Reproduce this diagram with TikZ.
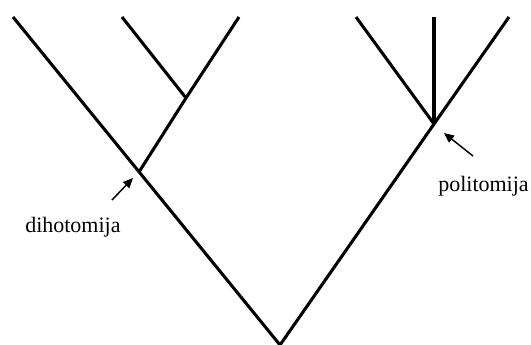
\documentclass[tikz,border=0pt]{standalone}
\usepackage{fontspec}
\setmainfont{Liberation Serif}
\usetikzlibrary{arrows.meta}
\begin{document}
\begin{tikzpicture}[x=0.75pt,y=-0.75pt,
  branch/.style={line width=2.3pt,line cap=butt},
  pointer/.style={line width=1.1pt,-{Triangle[length=7.5pt,width=6.5pt]}},
  lbl/.style={font=\fontsize{16.5pt}{19pt}\selectfont,inner sep=0pt,anchor=base west}]
\useasboundingbox (0,0) rectangle (531,345);
\coordinate (root) at (280,345);
\coordinate (dn) at (139,172);
\coordinate (in) at (186,98);
\coordinate (pn) at (434,124);
\coordinate (t1) at (13,17);
\coordinate (t2) at (122,17);
\coordinate (t3) at (239,17);
\coordinate (t4) at (356,17);
\coordinate (t5) at (434,17);
\coordinate (t6) at (509,17);
\draw[branch] (t1) -- (root) -- (pn);
\draw[branch] (dn) -- (in) -- (t3);
\draw[branch] (in) -- (t2);
\draw[branch] (t4) -- (pn) -- (t6);
\draw[branch] (pn) -- (t5);
\node[lbl] (dl) at (25,233) {dihotomija};
\node[lbl] (pl) at (438,192) {politomija};
\coordinate (da) at (112,200);
\coordinate (dh) at (133,178);
\coordinate (pa) at (473,156);
\coordinate (ph) at (444,133);
\draw[pointer] (da) -- (dh);
\draw[pointer] (pa) -- (ph);
\end{tikzpicture}
\end{document}
